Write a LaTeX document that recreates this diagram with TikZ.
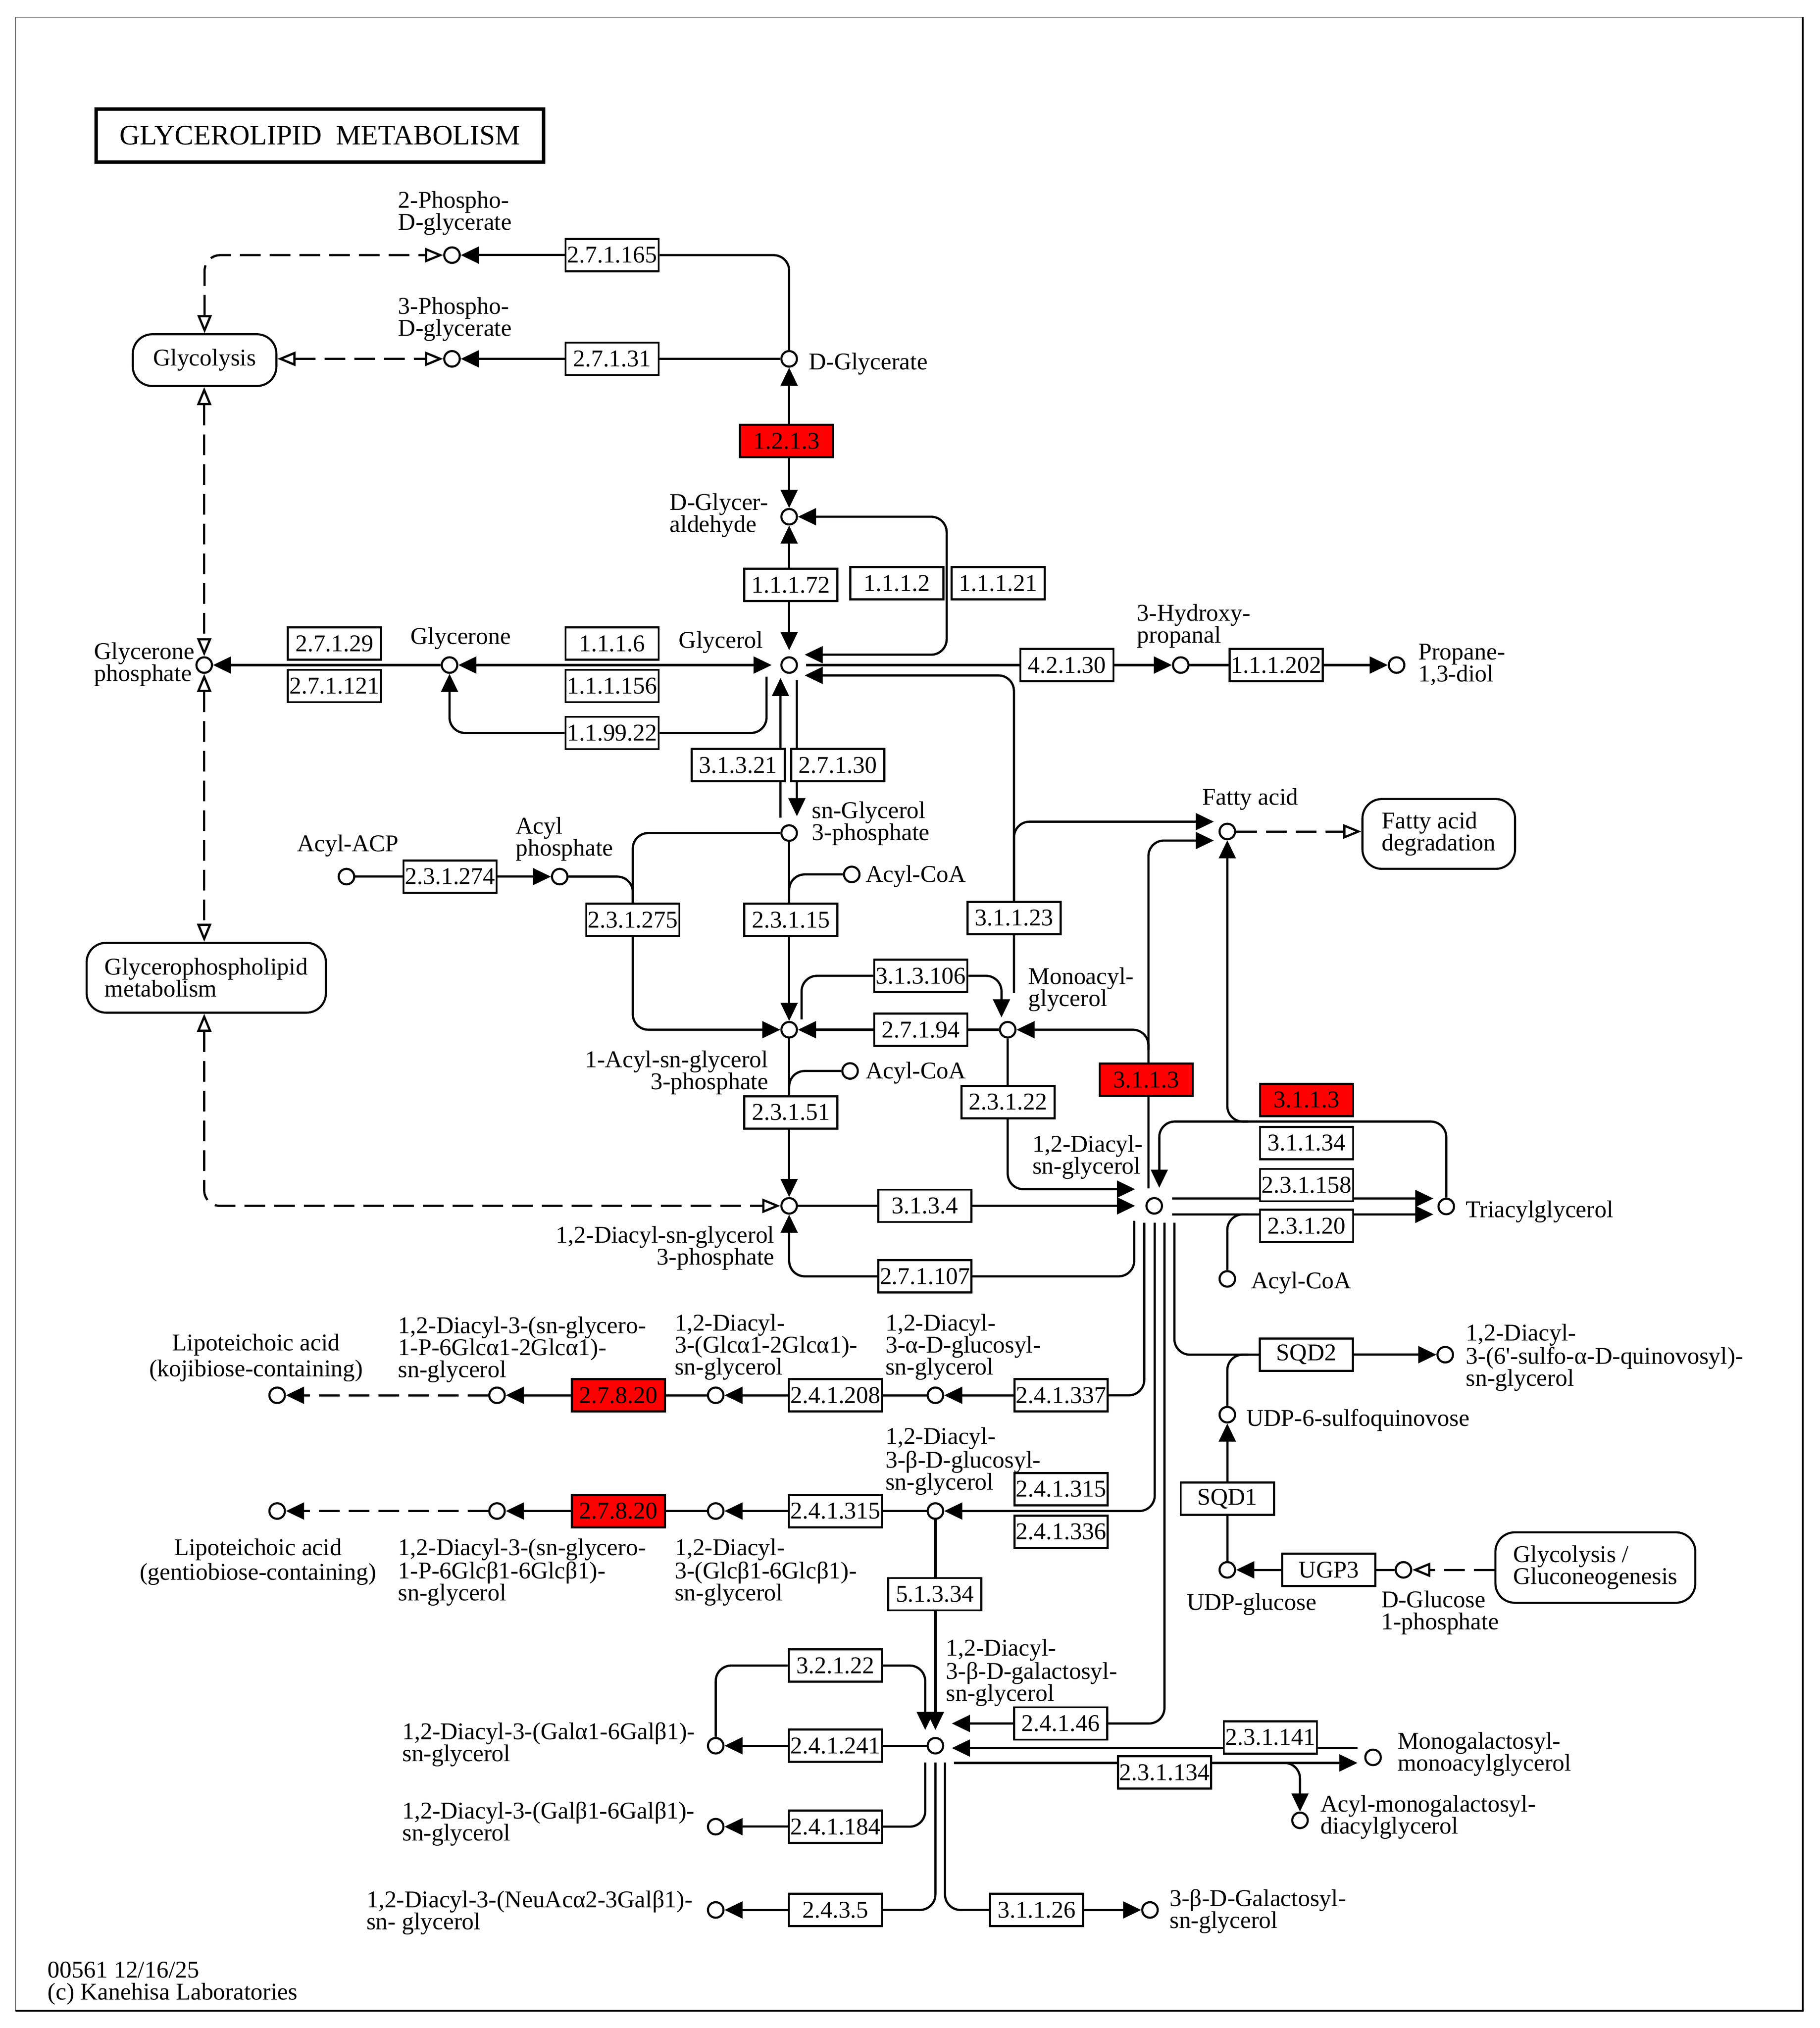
\documentclass[tikz,border=0pt]{standalone}
\usepackage{fontspec}
\setmainfont{Liberation Serif}
\usetikzlibrary{arrows.meta,calc,backgrounds}
\definecolor{keggred}{RGB}{255,0,0}
\newcommand\kfont{\fontsize{18.6}{17}\selectfont}
\tikzset{
  kt/.tip={Triangle[length=14pt,width=13pt]},
  ko/.tip={Triangle[open,length=14pt,width=11pt]},
}
\begin{document}
\begin{tikzpicture}[x=1pt,y=-1pt,
  cpd/.style={circle,draw,fill=white,minimum size=12pt,inner sep=0pt,line width=1.6pt},
  enz/.style={draw,fill=white,minimum width=72pt,minimum height=25pt,inner sep=0pt,line width=1.6pt,font=\kfont},
  enzr/.style={enz,fill=keggred},
  mapbox/.style={draw,fill=white,rounded corners=15pt,line width=1.6pt,align=left,font=\kfont,inner sep=0pt},
  lab/.style={inner sep=0pt,font=\kfont,align=left},
  ln/.style={line width=1.7pt,rounded corners=12pt},
  ar/.style={ln,-kt},
  arb/.style={ln,kt-kt},
  dsh/.style={line width=1.7pt,rounded corners=12pt,dash pattern=on 16pt off 7pt},
]
\useasboundingbox (0,0) rectangle (1407,1568.3);

% ---------- title ----------
\node[draw,line width=2.8pt,minimum width=346pt,minimum height=41pt,inner sep=0pt,
      font=\fontsize{21.8}{21}\selectfont] (title) at (247.4,104.8) {GLYCEROLIPID\ \ METABOLISM};

% ---------- maps ----------
\node[mapbox,minimum width=111pt,minimum height=40pt] (mglyco) at (158.2,278.5) {Glycolysis};
\node[mapbox,minimum width=185pt,minimum height=54pt] (mgpl) at (159.5,756.1) {Glycerophospholipid\\metabolism};
\node[mapbox,minimum width=118pt,minimum height=54pt] (mfad) at (1112.5,644.9) {Fatty acid\\degradation};
\node[mapbox,minimum width=154.6pt,minimum height=54.5pt] (mggn) at (1233.6,1212.2) {Glycolysis /\\Gluconeogenesis};

% ---------- compounds ----------
\node[cpd] (c2pg) at (349.5,197.3) {};
\node[cpd] (c3pg) at (349.5,277.5) {};
\node[cpd] (cdgly) at (610.2,277.5) {};
\node[cpd] (cdgla) at (610.2,399.6) {};
\node[cpd] (cglyc) at (610.2,514.3) {};
\node[cpd] (cglyn) at (347.6,514.3) {};
\node[cpd] (cgp) at (157.9,514.3) {};
\node[cpd] (chp) at (913,514.3) {};
\node[cpd] (cprop) at (1079.9,514.3) {};
\node[cpd] (csg3p) at (610.2,644.2) {};
\node[cpd] (cacp) at (267.9,677.9) {};
\node[cpd] (cacylp) at (432.8,677.9) {};
\node[cpd] (cacoaA) at (658.6,676.2) {};
\node[cpd] (cacyl) at (610.2,796.3) {};
\node[cpd] (cmag) at (779.2,796.3) {};
\node[cpd] (cacoaB) at (657.3,828.2) {};
\node[cpd] (cdagp) at (610.2,932.5) {};
\node[cpd] (cdag) at (892.5,932.5) {};
\node[cpd] (cfa) at (949,643) {};
\node[cpd] (ctag) at (1118.3,933) {};
\node[cpd] (cacoaC) at (949,989) {};
\node[cpd] (csqdg) at (1117.5,1047.6) {};
\node[cpd] (cudpsq) at (949,1094) {};
\node[cpd] (cudpg) at (949,1214) {};
\node[cpd] (cg1p) at (1085.2,1214) {};
\node[cpd] (cmgmg) at (1061.7,1359) {};
\node[cpd] (camgdg) at (1005.2,1407.7) {};
\node[cpd] (cmgdg) at (723.3,1350) {};
\node[cpd] (cgalsg) at (889.2,1477) {};
\node[cpd] (cgalA) at (553.4,1350) {};
\node[cpd] (cgalB) at (553.4,1412.6) {};
\node[cpd] (cgalC) at (553.4,1477) {};
\node[cpd] (cglcA) at (723.3,1079) {};
\node[cpd] (cdglcA) at (553.4,1079) {};
\node[cpd] (cpgA) at (384.3,1079) {};
\node[cpd] (cltA) at (214.3,1079) {};
\node[cpd] (cglcB) at (723.3,1168.5) {};
\node[cpd] (cdglcB) at (553.4,1168.5) {};
\node[cpd] (cpgB) at (384.3,1168.5) {};
\node[cpd] (cltB) at (214.3,1168.5) {};

% ---------- enzymes ----------
\node[enz] (e27165) at (473.3,197.3) {2.7.1.165};
\node[enz] (e27131) at (473.3,277.5) {2.7.1.31};
\node[enzr] (e1213) at (608.2,341) {1.2.1.3};
\node[enz] (e11172) at (611.5,452.3) {1.1.1.72};
\node[enz] (e1112) at (693.5,451) {1.1.1.2};
\node[enz] (e11121) at (771.8,451) {1.1.1.21};
\node[enz] (e27129) at (258.6,497.7) {2.7.1.29};
\node[enz] (e271121) at (258.6,530.5) {2.7.1.121};
\node[enz] (e1116) at (473.3,497.7) {1.1.1.6};
\node[enz] (e111156) at (473.3,530.5) {1.1.1.156};
\node[enz] (e119922) at (473.3,566.8) {1.1.99.22};
\node[enz] (e42130) at (825,514.3) {4.2.1.30};
\node[enz] (e111202) at (986.8,514.3) {1.1.1.202};
\node[enz] (e31321) at (570.7,591.7) {3.1.3.21};
\node[enz] (e27130) at (647.8,591.7) {2.7.1.30};
\node[enz] (e231274) at (348,677.9) {2.3.1.274};
\node[enz] (e231275) at (489.3,711.4) {2.3.1.275};
\node[enz] (e23115) at (611.6,711.4) {2.3.1.15};
\node[enz] (e31123) at (784.1,709.9) {3.1.1.23};
\node[enz] (e313106) at (712,754.6) {3.1.3.106};
\node[enz] (e27194) at (712,796.3) {2.7.1.94};
\node[enz] (e23151) at (611.6,860.2) {2.3.1.51};
\node[enzr] (e3113a) at (886.3,835) {3.1.1.3};
\node[enz] (e23122) at (779.5,852.2) {2.3.1.22};
\node[enz] (e3134) at (715.2,932.5) {3.1.3.4};
\node[enz] (e271107) at (715.2,987) {2.7.1.107};
\node[enzr] (e3113b) at (1010.3,850.6) {3.1.1.3};
\node[enz] (e31134) at (1010.3,883.9) {3.1.1.34};
\node[enz] (e231158) at (1010.3,916.5) {2.3.1.158};
\node[enz] (e23120) at (1010.3,948.1) {2.3.1.20};
\node[enz] (esqd2) at (1010.2,1047.6) {SQD2};
\node[enz] (esqd1) at (949,1159) {SQD1};
\node[enz] (eugp3) at (1027.5,1214) {UGP3};
\node[enz] (e241337) at (820.5,1079) {2.4.1.337};
\node[enz] (e241208) at (646,1079) {2.4.1.208};
\node[enzr] (e27820a) at (478.1,1079) {2.7.8.20};
\node[enz] (e241315a) at (820.5,1151.5) {2.4.1.315};
\node[enz] (e241336) at (820.5,1184.5) {2.4.1.336};
\node[enz] (e241315b) at (646,1168.5) {2.4.1.315};
\node[enzr] (e27820b) at (478.1,1168.5) {2.7.8.20};
\node[enz] (e51334) at (722.9,1232.8) {5.1.3.34};
\node[enz] (e32122) at (646,1288) {3.2.1.22};
\node[enz] (e241241) at (646,1350) {2.4.1.241};
\node[enz] (e241184) at (646,1412.6) {2.4.1.184};
\node[enz] (e2435) at (646,1477) {2.4.3.5};
\node[enz] (e31126) at (801.6,1477) {3.1.1.26};
\node[enz] (e24146) at (820.1,1332.8) {2.4.1.46};
\node[enz] (e231141) at (982.3,1343.5) {2.3.1.141};
\node[enz] (e231134) at (900.4,1370.6) {2.3.1.134};

% ---------- labels ----------
\node[lab,anchor=north west] (l2pg) at (307.7,147.7) {2-Phospho-\\D-glycerate};
\node[lab,anchor=north west] (l3pg) at (307.7,229.7) {3-Phospho-\\D-glycerate};
\node[lab,anchor=base west] (ldgly) at (625.2,285.7) {D-Glycerate};
\node[lab,anchor=north west] (ldgla) at (517.7,381.5) {D-Glycer-\\aldehyde};
\node[lab,anchor=north west] (lgp) at (72.7,496.7) {Glycerone\\phosphate};
\node[lab,anchor=base west] (lglyn) at (317.3,498.2) {Glycerone};
\node[lab,anchor=base west] (lglyc) at (524.7,501.3) {Glycerol};
\node[lab,anchor=north west] (lhp) at (879,467.2) {3-Hydroxy-\\propanal};
\node[lab,anchor=north west] (lprop) at (1096.5,497.7) {Propane-\\1,3-diol};
\node[lab,anchor=base west] (lacp) at (229.6,658.5) {Acyl-ACP};
\node[lab,anchor=north west] (lacylp) at (398.6,631.6) {Acyl\\phosphate};
\node[lab,anchor=north west] (lsg3p) at (627.7,619.7) {sn-Glycerol\\3-phosphate};
\node[lab,anchor=base west] (lacoaA) at (669.2,682) {Acyl-CoA};
\node[lab,anchor=north west] (lmag) at (795,748.2) {Monoacyl-\\glycerol};
\node[lab,anchor=north east,align=right] (lacyl) at (594.2,812.5) {1-Acyl-sn-glycerol\\3-phosphate};
\node[lab,anchor=base west] (lacoaB) at (669.2,834) {Acyl-CoA};
\node[lab,anchor=north west] (ldag) at (798.2,877.7) {1,2-Diacyl-\\sn-glycerol};
\node[lab,anchor=north east,align=right] (ldagp) at (599,947.9) {1,2-Diacyl-sn-glycerol\\3-phosphate};
\node[lab,anchor=base west] (lfa) at (929.7,622.4) {Fatty acid};
\node[lab,anchor=base west] (ltag) at (1133.3,941.5) {Triacylglycerol};
\node[lab,anchor=base west] (lacoaC) at (967.2,996.6) {Acyl-CoA};
\node[lab,anchor=north west] (lsqdg) at (1133.3,1023.7) {1,2-Diacyl-\\3-(6\textquotesingle-sulfo-α-D-quinovosyl)-\\sn-glycerol};
\node[lab,anchor=base west] (ludpsq) at (963.5,1102.9) {UDP-6-sulfoquinovose};
\node[lab,anchor=base west] (ludpg) at (917.5,1245.2) {UDP-glucose};
\node[lab,anchor=north west] (lg1p) at (1067.8,1230.1) {D-Glucose\\1-phosphate};
\node[lab,anchor=north west] (lmgmg) at (1080.5,1339.2) {Monogalactosyl-\\monoacylglycerol};
\node[lab,anchor=north west] (lamgdg) at (1021,1388) {Acyl-monogalactosyl-\\diacylglycerol};
\node[lab,anchor=north west] (lgalsg) at (904.2,1460.8) {3-β-D-Galactosyl-\\sn-glycerol};
\node[lab,anchor=north west] (lmgdg) at (731.3,1267.4) {1,2-Diacyl-\\3-β-D-galactosyl-\\sn-glycerol};
\node[lab,anchor=north west] (lglcB) at (684.5,1103.8) {1,2-Diacyl-\\3-β-D-glucosyl-\\sn-glycerol};
\node[lab,anchor=north west] (lglcA) at (684.5,1015.9) {1,2-Diacyl-\\3-α-D-glucosyl-\\sn-glycerol};
\node[lab,anchor=north west] (ldglcA) at (521.5,1015.9) {1,2-Diacyl-\\3-(Glcα1-2Glcα1)-\\sn-glycerol};
\node[lab,anchor=north west] (lpgA) at (307.7,1018) {1,2-Diacyl-3-(sn-glycero-\\1-P-6Glcα1-2Glcα1)-\\sn-glycerol};
\node[lab,anchor=north,align=center] (lltA) at (198,1031.2) {Lipoteichoic acid\\[3pt](kojibiose-containing)};
\node[lab,anchor=north,align=center] (lltB) at (199.5,1189.7) {Lipoteichoic acid\\[2pt](gentiobiose-containing)};
\node[lab,anchor=north west] (lpgB) at (307.7,1189.7) {1,2-Diacyl-3-(sn-glycero-\\1-P-6Glcβ1-6Glcβ1)-\\sn-glycerol};
\node[lab,anchor=north west] (ldglcB) at (521.5,1189.7) {1,2-Diacyl-\\3-(Glcβ1-6Glcβ1)-\\sn-glycerol};
\node[lab,anchor=north west] (lgalA) at (310.9,1331.9) {1,2-Diacyl-3-(Galα1-6Galβ1)-\\sn-glycerol};
\node[lab,anchor=north west] (lgalB) at (310.9,1393) {1,2-Diacyl-3-(Galβ1-6Galβ1)-\\sn-glycerol};
\node[lab,anchor=north west] (lgalC) at (283.2,1461.8) {1,2-Diacyl-3-(NeuAcα2-3Galβ1)-\\sn- glycerol};
\node[lab,anchor=north west] (lfoot) at (36.7,1517) {00561 12/16/25\\(c) Kanehisa Laboratories};

% ---------- connectors ----------
\begin{pgfonlayer}{background}
\fill[white] (0,0) rectangle (1407,1568.3);
% top
\draw[ar] (e27165.west) -- (c2pg.east);
\draw[ln] (e27165.east) -| (cdgly.north);
\draw[ar] (e27131.west) -- (c3pg.east);
\draw[ln] (e27131.east) -- (cdgly.west);
\draw[dsh,ko-ko] (mglyco.north) |- (c2pg.west);
\draw[dsh,ko-ko] (mglyco.east |- c3pg) -- (c3pg.west);
\draw[dsh,ko-ko] (mglyco.south -| cgp) -- (cgp.north);
\draw[dsh,ko-ko] (cgp.south) -- (cgp |- mgpl.north);
\draw[dsh,ko-ko] (cgp |- mgpl.south) |- (cdagp.west);
\draw[ar] (e1213.north -| cdgly) -- (cdgly.south);
\draw[ar] (e1213.south -| cdgly) -- (cdgla.north);
\draw[ar] (e11172.north -| cdgla) -- (cdgla.south);
\draw[ar] (e11172.south -| cdgla) -- ($(cglyc)+(0,-11.5)$);
\draw[arb] (cdgla.east) -- (732,399.6) -- (732,506.3) -- ($(cglyc)+(12,-8)$);
% glycerol row
\draw[arb] (cglyn.east) -- ($(cglyc)+(-13.5,0)$);
\draw[ar] (cglyn.west) -- (cgp.east);
\draw[ar] (e119922.west) -| (cglyn.south);
\draw[ln] (e119922.east) -| ($(cglyc)+(-17.5,9)$);
\draw[ln] ($(cglyc)+(13,0)$) -- (e42130.west);
\draw[ar] (e42130.east) -- (chp.west);
\draw[ln] (chp.east) -- (e111202.west);
\draw[ar] (e111202.east) -- (cprop.west);
\draw[ar] ($(csg3p)+(-6.7,-12)$) -- ($(cglyc)+(-6.7,10)$);
\draw[ar] ($(cglyc)+(6,11.7)$) -- ($(csg3p)+(6,-13)$);
% acyl part
\draw[ar] (csg3p.west) -| (e231275.center) |- (cacyl.west);
\draw[ln] (cacylp.east) -| (e231275.north);
\draw[ln] (cacp.east) -- (e231274.west);
\draw[ar] (e231274.east) -- (cacylp.west);
\draw[ar] (csg3p.south) -- (cacyl.north);
\draw[ln] (cacoaA.west) -| (e23115.north -| csg3p);
\draw[ar] (cacyl.south) -- (cdagp.north);
\draw[ln] (cacoaB.west) -| (e23151.north -| cacyl);
\draw[ln] (cmag.west) -- (e27194.east);
\draw[ar] (e27194.west) -- (cacyl.east);
\draw[ln] ($(cacyl)+(9.6,-8)$) |- (e313106.west);
\draw[ar] (e313106.east) -| ($(cmag)+(-4.8,-9.5)$);
\draw[ar] ($(cmag)+(4.8,-28.3)$) |- ($(cglyc)+(12,8)$);
\draw[ar] (e31123.north) |- ($(cfa)+(-10.4,-7.6)$);
\draw[ar] (cmag.south) |- ($(cdag)+(-14.8,-12.9)$);
\draw[ar] (cdagp.east) -- ($(cdag)+(-14.8,0)$);
\draw[ar] ($(cdag)+(-15.5,11.6)$) |- (e271107.center) -| (cdagp.south);
\draw[dsh,-ko] (cfa.east) -- (mfad.west |- cfa);
\draw[ar] ($(cdag)+(-4.5,-13.5)$) |- ($(cfa)+(-10.4,7)$);
\draw[ar] (888,812) |- (cmag.east);
% TAG
\draw[ar] (ctag.north) |- (896.4,867.3) -- ($(cdag)+(3.9,-14)$);
\draw[ar] (965,867.3) -| (cfa.south);
\draw[ar] ($(cdag)+(13.8,-5.7)$) -- ($(ctag)+(-10,-6.2)$);
\draw[ar] ($(cdag)+(13.8,6.6)$) -- ($(ctag)+(-10,6.1)$);
\draw[ln] (cacoaC.north) |- (965,939.1);
% DAG downwards
\draw[ln] ($(cdag)+(-7.7,13)$) |- (e241337.east);
\draw[ar] (e241337.west) -- (cglcA.east);
\draw[ar] ($(cdag)+(0.4,13)$) |- (cglcB.east);
\draw[ar] ($(cdag)+(7.9,13)$) |- ($(cmgdg)+(12.7,-17.2)$);
\draw[ln] ($(cdag)+(15.6,13)$) |- (esqd2.west);
\draw[ar] (esqd2.east) -- (csqdg.west);
\draw[ln] (cudpsq.north) |- (965,1047.6);
\draw[ln] (cudpg.north) -- (esqd1.south);
\draw[ar] (esqd1.north) -- (cudpsq.south);
\draw[ln] (cg1p.west) -- (eugp3.east);
\draw[ar] (eugp3.west) -- (cudpg.east);
\draw[dsh,-ko] (mggn.west |- cg1p) -- (cg1p.east);
% glucosyl rows
\draw[ln] (cglcA.west) -- (e241208.east);
\draw[ar] (e241208.west) -- (cdglcA.east);
\draw[ln] (cdglcA.west) -- (e27820a.east);
\draw[ar] (e27820a.west) -- (cpgA.east);
\draw[dsh,-kt] (cpgA.west) -- (cltA.east);
\draw[ln] (cglcB.west) -- (e241315b.east);
\draw[ar] (e241315b.west) -- (cdglcB.east);
\draw[ln] (cdglcB.west) -- (e27820b.east);
\draw[ar] (e27820b.west) -- (cpgB.east);
\draw[dsh,-kt] (cpgB.west) -- (cltB.east);
% galactosyl
\draw[ar] (cglcB.south) -- ($(cmgdg)+(0,-12.2)$);
\draw[ln] (cgalA.north) |- (e32122.west);
\draw[ar] (e32122.east) -| ($(cmgdg)+(-7.9,-12.2)$);
\draw[ln] (cmgdg.west) -- (e241241.east);
\draw[ar] (e241241.west) -- (cgalA.east);
\draw[ln] ($(cmgdg)+(-7.9,13)$) |- (e241184.east);
\draw[ar] (e241184.west) -- (cgalB.east);
\draw[ln] ($(cmgdg)+(0,13)$) |- (e2435.east);
\draw[ar] (e2435.west) -- (cgalC.east);
\draw[ln] ($(cmgdg)+(7.4,13)$) |- (e31126.west);
\draw[ar] (e31126.east) -- (cgalsg.west);
\draw[ar] ($(cmgmg)+(-12,-7.2)$) -- ($(cmgdg)+(12.7,1.8)$);
\draw[ar] ($(cmgdg)+(14.4,13.3)$) -- ($(cmgmg)+(-12,4.3)$);
\draw[ar] (980,1363.3) -| (camgdg.north);
\end{pgfonlayer}

% frame
\draw[black!55,line width=0.8pt] (12,13.4) rectangle (1394,1555);
\draw[black,line width=1.4pt] (12,1555) -- (1394,1555) -- (1394,13.4);
\end{tikzpicture}
\end{document}
